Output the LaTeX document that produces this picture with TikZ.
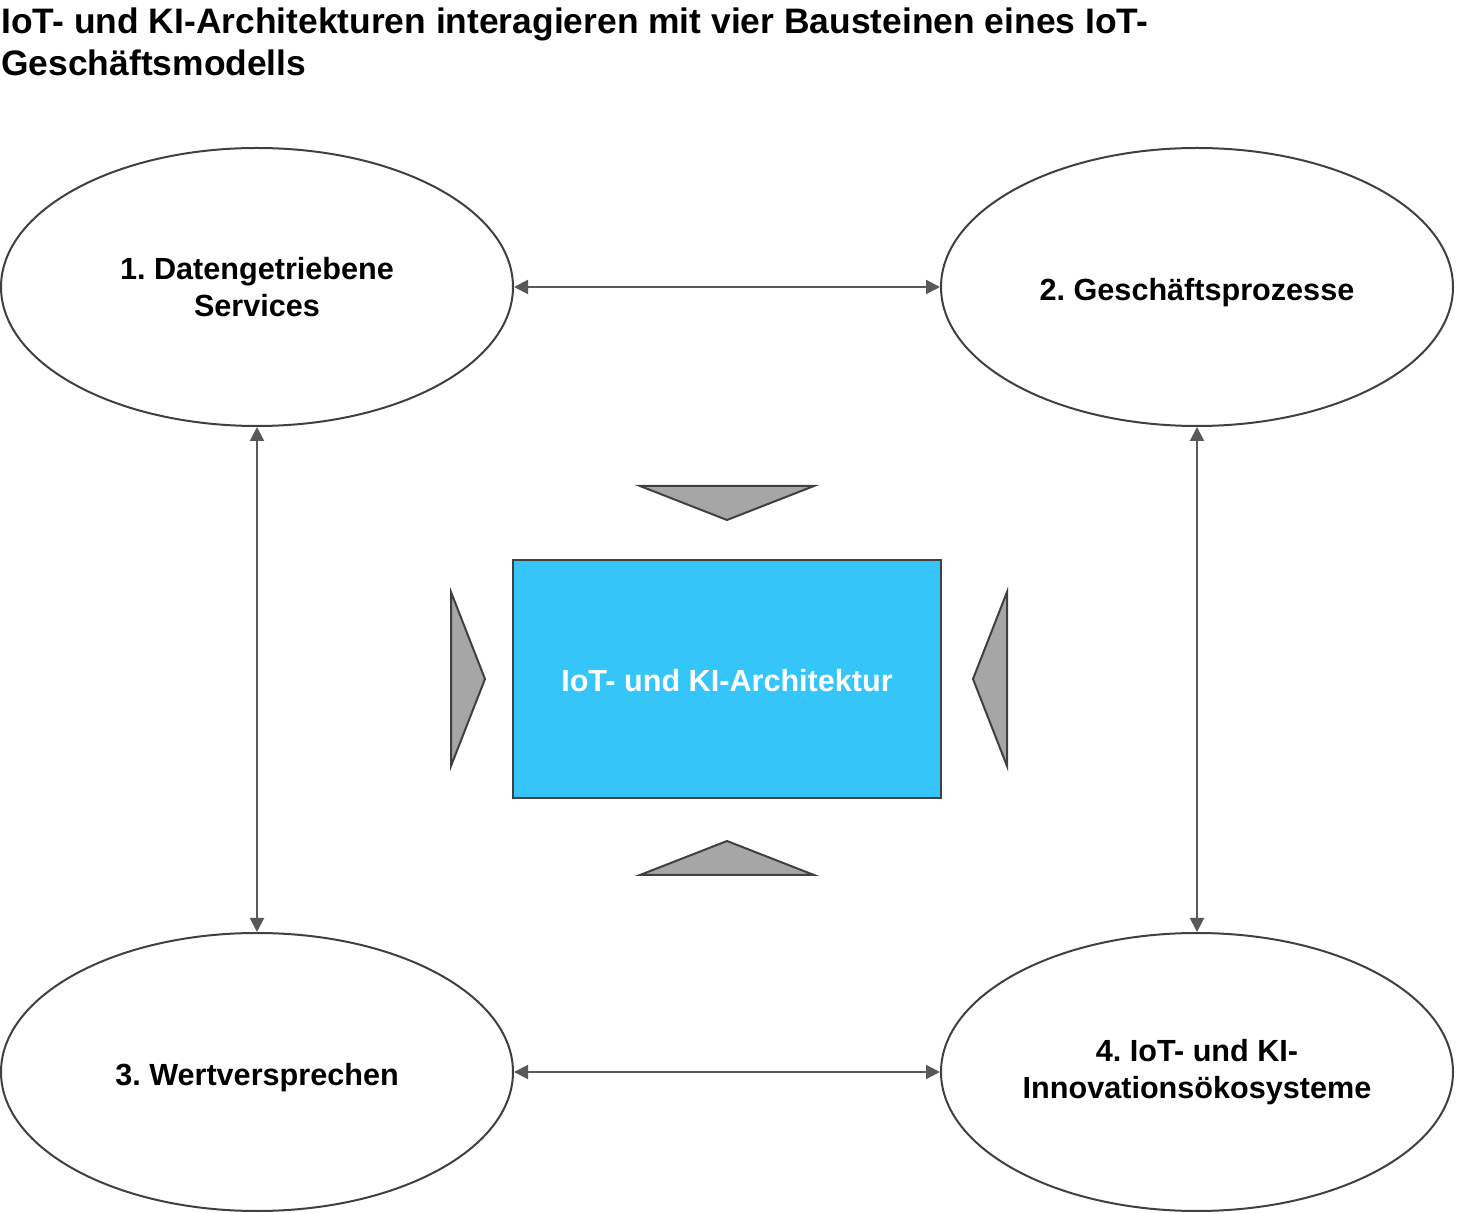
\documentclass[tikz,border=0pt]{standalone}
\usepackage{fontspec}
\setmainfont{Liberation Sans}
\usetikzlibrary{shapes.geometric,arrows.meta}

\definecolor{archblue}{HTML}{36C5F8}
\definecolor{bordergray}{HTML}{404040}
\definecolor{linkgray}{HTML}{595959}
\definecolor{pointergray}{HTML}{A6A6A6}

\frenchspacing

\tikzset{
  block/.style={ellipse,draw=bordergray,line width=1pt,fill=white,
    minimum width=256pt,minimum height=139pt,align=center,
    font=\fontsize{15.3}{18.5}\selectfont\bfseries},
  oneline/.style={text height=13.3pt,text depth=0pt},
  pointer/.style={draw=bordergray,line width=1pt,fill=pointergray}
}

\begin{document}
\begin{tikzpicture}[x=0.5pt,y=-0.5pt]

        \useasboundingbox (0,0) rectangle (1458,1213);

        \node[anchor=north west,inner sep=0pt,align=left,
              font=\fontsize{17.7}{21}\selectfont\bfseries] (title) at (1,7)
          {IoT- und KI-Architekturen interagieren mit vier Bausteinen eines IoT-\\Geschäftsmodells};

        \begin{scope}[every node/.style={block}]
          \node (1)  at (257,287)   {1. Datengetriebene\\Services};
          \node[oneline] (2)  at (1197,287)  {2. Geschäftsprozesse};
          \node[oneline] (3)  at (257,1072)  {3. Wertversprechen};
          \node (4)  at (1197,1072) {4. IoT- und KI-\\Innovationsökosysteme};
        \end{scope}

        \node[draw=bordergray,line width=1pt,fill=archblue,text=white,
              minimum width=214pt,minimum height=119pt,
              text height=13pt,text depth=0pt,
              font=\fontsize{15.3}{18.5}\selectfont\bfseries] (arch) at (727,679)
          {IoT- und KI-Architektur};

        % pointers towards the architecture box
        \draw[pointer] (640,486) -- (814,486) -- (727,520) -- cycle;
        \draw[pointer] (640,875) -- (814,875) -- (727,841) -- cycle;
        \draw[pointer] (451,592) -- (451,766) -- (485,679) -- cycle;
        \draw[pointer] (1007,592) -- (1007,766) -- (973,679) -- cycle;

        \begin{scope}[every edge/.style={draw=linkgray,line width=1pt,
            {Triangle[length=7pt,width=7pt]}-{Triangle[length=7pt,width=7pt]}}]
          \path (1)  edge (2);
          \path (3)  edge (4);
          \path (1)  edge (3);
          \path (2)  edge (4);
        \end{scope}

      \end{tikzpicture}
\end{document}
